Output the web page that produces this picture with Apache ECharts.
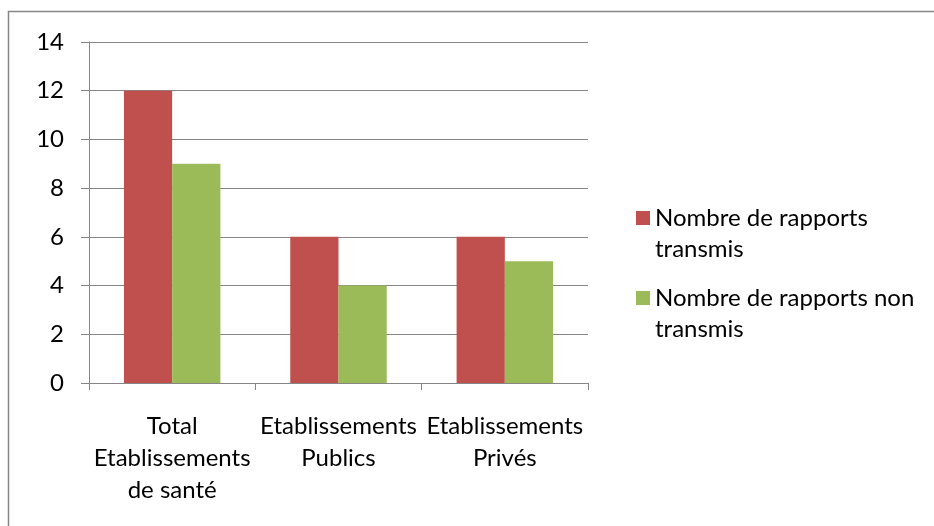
<!DOCTYPE html>
<html>
<head>
<meta charset="utf-8">
<script src="https://cdn.jsdelivr.net/npm/echarts@6/dist/echarts.min.js"></script>
<style>
  html, body { margin: 0; padding: 0; background: #fff; }
  #main { width: 934px; height: 526px; }
</style>
</head>
<body>
<div id="main"></div>
<script>
// catégories et valeurs
var categories = ['Total\nEtablissements\nde santé', 'Etablissements\nPublics', 'Etablissements\nPrivés'];
var seriesNames = ['Nombre de rapports transmis', 'Nombre de rapports non transmis'];
var legendLines = [['Nombre de rapports', 'transmis'], ['Nombre de rapports non', 'transmis']];
var transmis = [12, 6, 6];
var nonTransmis = [9, 4, 5];

var fontName = 'Lato, "Open Sans", sans-serif';
var gridColor = '#868686';
var lineH = 31;

var myChart = echarts.init(document.getElementById('main'));

// une légende par série, pour aligner le carré sur la première ligne
function makeLegend(index, top) {
    return {
        orient: 'vertical',
        left: 631,
        top: top,
        itemWidth: 14,
        itemHeight: 14,
        icon: 'rect',
        data: [seriesNames[index]],
        formatter: function(name) {
            var lines = legendLines[seriesNames.indexOf(name)];
            // ligne vide en haut : la première ligne tombe au niveau du carré
            return '{s| }\n{t|' + lines[0] + '}\n{t|' + lines[1] + '}';
        },
        textStyle: {
            fontFamily: fontName,
            color: '#000',
            rich: {
                s: { fontSize: 24, lineHeight: lineH },
                t: { fontFamily: fontName, fontSize: 24, lineHeight: lineH, color: '#000' }
            }
        }
    };
}

var option = {
    backgroundColor: '#fff',
    animation: false,
    textStyle: { fontFamily: fontName },
    graphic: [{
        type: 'rect',
        shape: { x: 8.5, y: 11.5, width: 940, height: 530 },
        style: { fill: 'none', stroke: gridColor, lineWidth: 1.5 },
        silent: true
    }],
    grid: { left: 89, right: 346, top: 42, bottom: 143 },
    legend: [makeLegend(0, 170), makeLegend(1, 250)],
    xAxis: {
        type: 'category',
        data: categories,
        axisLine: { lineStyle: { color: gridColor, width: 1 } },
        axisTick: { show: true, length: 7, lineStyle: { color: gridColor } },
        axisLabel: {
            color: '#000',
            fontSize: 24,
            lineHeight: 32,
            margin: 27,
            interval: 0
        }
    },
    yAxis: {
        type: 'value',
        min: 0,
        max: 14,
        interval: 2,
        axisLine: { show: true, lineStyle: { color: gridColor, width: 1 } },
        axisTick: { show: true, length: 8, lineStyle: { color: gridColor } },
        splitLine: { lineStyle: { color: gridColor, width: 1 } },
        axisLabel: { color: '#000', fontSize: 24, margin: 25 }
    },
    series: [{
        name: seriesNames[0],
        type: 'bar',
        data: transmis,
        barGap: '0%',
        barCategoryGap: '42%',
        itemStyle: { color: '#C0504D' }
    }, {
        name: seriesNames[1],
        type: 'bar',
        data: nonTransmis,
        itemStyle: { color: '#9BBB59' }
    }]
};

myChart.setOption(option);
</script>
</body>
</html>
